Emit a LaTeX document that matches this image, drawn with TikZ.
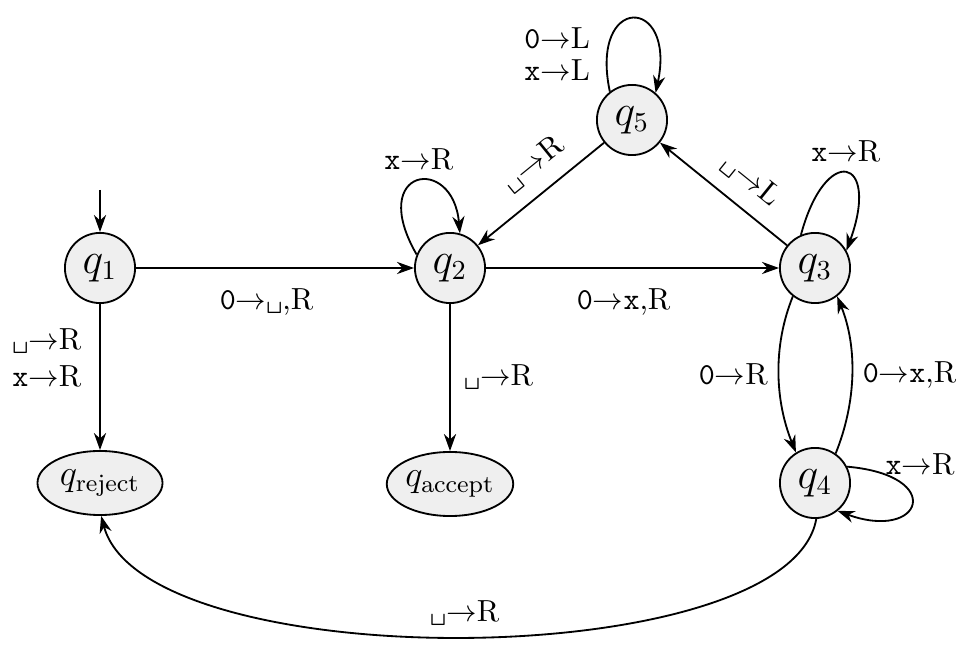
\documentclass[tikz,border=0pt]{standalone}
\usetikzlibrary{arrows.meta,shapes.geometric}
\definecolor{statefill}{RGB}{239,239,239}
\newcommand{\vs}{\texttt{\textvisiblespace}}
\newcommand{\tz}{\texttt{0}}
\newcommand{\tx}{\texttt{x}}
\begin{document}
\begin{tikzpicture}[x=0.32787pt,y=0.32787pt,
  line width=0.6pt,
  >={Stealth[length=5.6pt,width=4pt]},
  stateq/.style={circle,draw,fill=statefill,minimum size=23pt,inner sep=0pt,font=\fontsize{13.5}{16}\selectfont},
  finalq/.style={ellipse,draw,fill=statefill,minimum width=41pt,minimum height=21pt,inner sep=0pt,font=\large}]
\useasboundingbox (0,0) rectangle (974,-651);

\node[stateq] (q1) at (100,-268) {$q_1$};
\node[stateq] (q2) at (450,-268) {$q_2$};
\node[stateq] (q3) at (815,-268) {$q_3$};
\node[stateq] (q4) at (815,-483) {$q_4$};
\node[stateq] (q5) at (632,-120) {$q_5$};
\node[finalq] (qr) at (100,-483) {$q_{\mathrm{reject}}$};
\node[finalq] (qa) at (450,-484) {$q_{\mathrm{accept}}$};
\coordinate (start) at (100,-190);

\draw[->] (start) -- (q1);
\draw[->] (q1) -- node[below=3pt,pos=0.47] {\tz$\to$\vs,R} (q2);
\draw[->] (q2) -- node[below=3pt,pos=0.47] {\tz$\to$\tx,R} (q3);
\draw[->] (q1) -- node[left=2.5pt,pos=0.37,align=center] {\vs$\to$R\\\tx$\to$R} (qr);
\draw[->] (q2) -- node[right=1pt] {\vs$\to$R} (qa);
\draw[->] (q3) -- node[sloped,above=1.5pt,pos=0.42] {\vs$\to$L} (q5);
\draw[->] (q5) -- node[sloped,above=1.5pt,pos=0.42] {\vs$\to$R} (q2);

% loops
\draw[->] (q5.128.5) .. controls +(102:100) and +(78:100) .. node[pos=0.15,left=2pt,align=center] {\tz$\to$L\\[-1.5pt]\tx$\to$L} (q5.49.5);
\draw[->] (q2.158) .. controls +(120:100) and +(95:80) .. node[above,pos=0.52] {\tx$\to$R} (q2.74);
\draw[->] (q3.113) .. controls +(75:95) and +(70:100) .. node[above] {\tx$\to$R} (q3.29);
\draw[->] (q4.27) .. controls +(-5:100) and +(-20:90) .. node[pos=0.3,above,xshift=5pt] {\tx$\to$R} (q4.-51);

% q3 <-> q4
\draw[->] (q3.-128) .. controls +(-112:55) and +(112:55) .. node[left] {\tz$\to$R} (q4.122);
\draw[->] (q4.55) .. controls +(68:55) and +(-68:55) .. node[right] {\tz$\to$\tx,R} (q3.-52);

% q4 -> reject
\draw[->] (q4.-88) .. controls +(-100:158) and +(-75:168) .. node[above] {\vs$\to$R} (qr.-88);
\end{tikzpicture}
\end{document}
